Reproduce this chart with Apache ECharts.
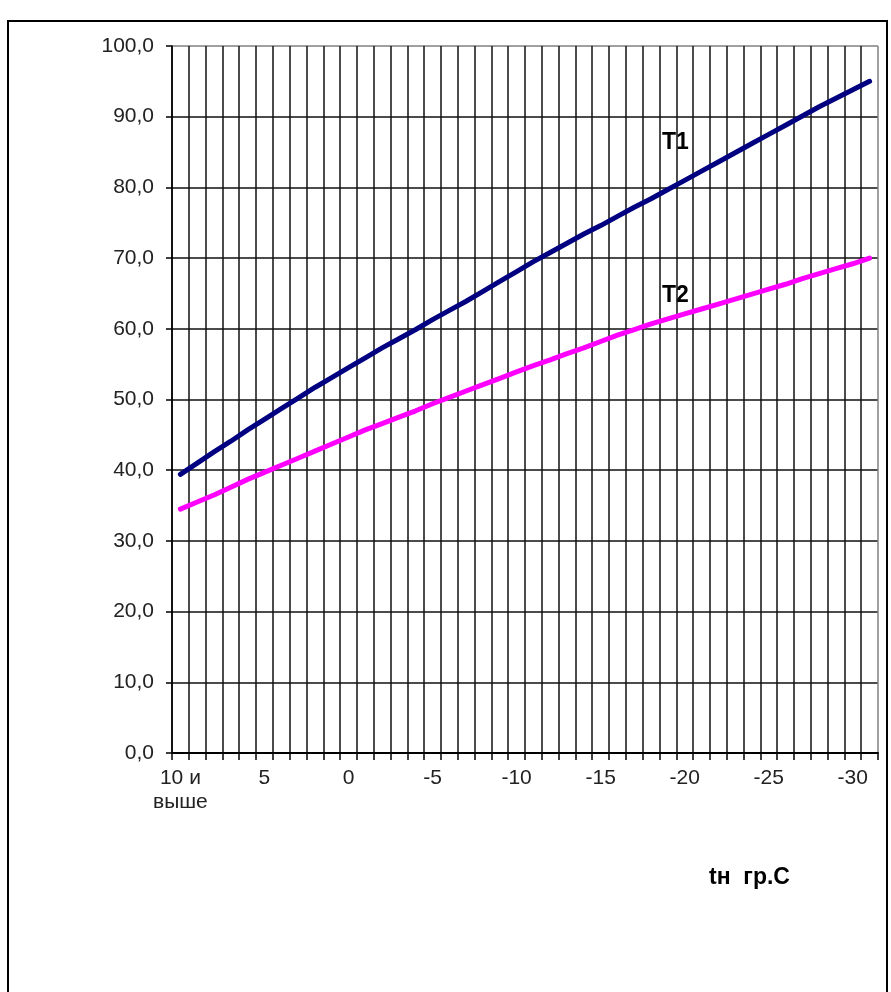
<!DOCTYPE html>
<html>
<head>
<meta charset="utf-8">
<script src="https://cdn.jsdelivr.net/npm/echarts@6/dist/echarts.min.js"></script>
<style>
html,body{margin:0;padding:0;background:#fff;}
#chart{width:891px;height:992px;}
</style>
</head>
<body>
<div id="chart"></div>
<script>
// Outdoor temperature categories (tн, °C)
const categories = ["10 и\nвыше","9","8","7","6","5","4","3","2","1","0","-1","-2","-3","-4","-5","-6","-7","-8","-9","-10",
  "-11","-12","-13","-14","-15","-16","-17","-18","-19","-20","-21","-22","-23","-24","-25","-26","-27","-28","-29","-30","-31"];
// Supply temperature T1
const t1 = [39.4,41.0,42.6,44.1,45.7,47.2,48.7,50.2,51.7,53.1,54.5,55.9,57.3,58.6,59.9,61.3,62.6,63.9,65.3,66.7,68.1,
  69.5,70.8,72.1,73.4,74.6,75.9,77.2,78.4,79.7,81.0,82.3,83.6,84.9,86.2,87.5,88.8,90.1,91.4,92.6,93.8,95.0];
// Return temperature T2
const t2 = [34.5,35.5,36.5,37.6,38.7,39.7,40.7,41.7,42.7,43.7,44.7,45.7,46.6,47.5,48.4,49.4,50.3,51.2,52.1,53.0,53.9,
  54.8,55.6,56.5,57.3,58.2,59.1,59.9,60.7,61.4,62.1,62.8,63.5,64.2,64.9,65.6,66.3,67.1,67.8,68.5,69.2,70.0];
const seriesNames = ["T1","T2"];
const yTicks = {min:0, max:100, interval:10};
const xTitle = "tн  гр.С";

const font = "Arial, 'Liberation Sans', sans-serif";
const xColors = categories.map(()=>'#111').concat(['#808080']);
const yColors = [];
for (let v = yTicks.min; v < yTicks.max; v += yTicks.interval) yColors.push('#111');
yColors.push('#808080');

const chart = echarts.init(document.getElementById('chart'), null, {renderer:'canvas'});
chart.setOption({
  backgroundColor:'#fff',
  animation:false,
  grid:{left:172, right:13, top:46, bottom:239, containLabel:false},
  xAxis:{
    type:'category', data:categories, boundaryGap:true,
    axisLine:{show:true, lineStyle:{color:'#000', width:2}},
    axisTick:{show:true, interval:0, length:7, lineStyle:{color:'#000', width:1.5}},
    axisLabel:{interval:4, margin:13, fontFamily:font, fontSize:21, color:'#222', lineHeight:24, align:'center'},
    splitLine:{show:true, interval:0, lineStyle:{color:xColors, width:1.5}}
  },
  yAxis:{
    type:'value', min:yTicks.min, max:yTicks.max, interval:yTicks.interval,
    axisLine:{show:true, lineStyle:{color:'#000', width:1.5}},
    axisTick:{show:true, length:6, lineStyle:{color:'#000', width:1.5}},
    axisLabel:{margin:18, fontFamily:font, fontSize:21, color:'#222',
      formatter:v=>v.toFixed(1).replace('.',',')},
    splitLine:{show:true, lineStyle:{color:yColors, width:1.5}}
  },
  series:[
    {name:seriesNames[0], type:'line', data:t1, showSymbol:false, symbol:'none',
     lineStyle:{color:'#000080', width:5, cap:'round'}, z:5},
    {name:seriesNames[1], type:'line', data:t2, showSymbol:false, symbol:'none',
     lineStyle:{color:'#FF00FF', width:5, cap:'round'}, z:4}
  ],
  graphic:[
    {type:'rect', shape:{x:8, y:21, width:879, height:1000}, style:{fill:'none', stroke:'#000', lineWidth:2}, silent:true},
    {type:'text', left:662, top:131, style:{text:seriesNames[0], font:"bold 23px "+font, fill:'#000'}},
    {type:'text', left:662, top:284, style:{text:seriesNames[1], font:"bold 23px "+font, fill:'#000'}},
    {type:'text', left:709, top:866, style:{text:xTitle, font:"bold 23px "+font, fill:'#000'}}
  ]
});
</script>
</body>
</html>
